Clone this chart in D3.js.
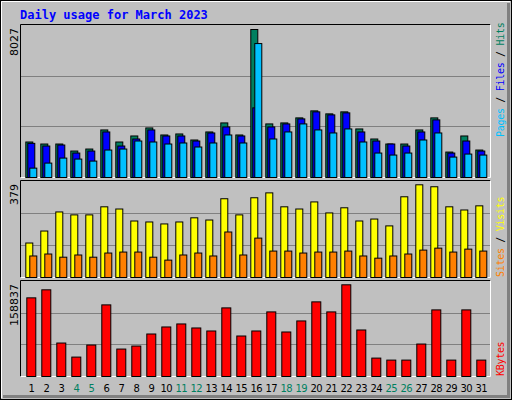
<!DOCTYPE html>
<html><head><meta charset="utf-8">
<script src="https://cdn.jsdelivr.net/npm/d3@7"></script>
<style>body{margin:0;background:#fff}svg{display:block}</style>
</head><body>
<script>
const days = d3.range(1,32);
const weekendDays = [4,5,11,12,18,19,25,26];
const hits = [1925,1816,1816,1435,1544,2579,1925,2252,2688,2306,2361,2034,2470,2960,2306,8027,2906,2960,3233,3614,3451,3560,2633,2088,1816,1816,2579,3233,1380,2252,1489];
const files = [1852,1707,1762,1326,1435,2470,1707,2088,2579,2252,2252,1979,2415,2742,2252,3777,2742,2906,3178,3560,3396,3505,2470,1979,1816,1707,2470,3124,1326,1979,1435];
const pages = [508,781,1053,999,890,1489,1544,1979,1925,1816,1871,1653,1871,2306,1871,7264,2088,2470,2906,2579,2415,2633,1925,1326,1217,1326,2034,2415,1108,1271,1217];
const visits = [141,190,268,256,256,289,280,231,227,219,227,244,235,322,256,326,346,289,280,309,264,285,231,239,211,330,379,371,289,276,293];
const sites = [88,96,83,92,83,100,104,104,83,71,92,100,88,186,92,161,108,108,100,104,104,108,88,79,88,96,112,120,104,116,108];
const kbytes = [136230,150143,57970,33623,54492,124056,47535,52753,73622,85796,91013,84057,78839,118839,70144,78839,111882,77100,96230,129273,111882,158837,80578,31884,28405,28405,56231,115360,28405,115360,28405];
const maxLabels = ["8027","379","158837"];

const svg = d3.select("body").append("svg").attr("width",512).attr("height",400);
const font = "'DejaVu Sans Mono', monospace";
svg.append("rect").attr("x",0).attr("y",0).attr("width",512).attr("height",400).attr("fill","#c0c0c0");
svg.append("path").attr("d","M1.5,398 V1.5 H510").attr("stroke","#fff").attr("fill","none").attr("stroke-width",1);
svg.append("path").attr("d","M3,396.5 H508.5 V3").attr("stroke","#808080").attr("fill","none").attr("stroke-width",3);
svg.append("rect").attr("x",0.5).attr("y",0.5).attr("width",511).attr("height",399).attr("fill","none").attr("stroke","#000");

svg.append("text").attr("x",20).attr("y",19).attr("font-family",font).attr("font-weight","bold")
  .attr("font-size",12).attr("fill","#0000ff").text("Daily usage for March 2023");

const x = d3.scaleLinear().domain([1,31]).range([25.3,475.3]);
const panels = [
  {top:25, base:177, maxY:29, max:8027},
  {top:181, base:277, maxY:184.3, max:379},
  {top:281, base:376, maxY:284.3, max:158837}
];
panels.forEach((p,i)=>{
  svg.append("rect").attr("x",20.5).attr("y",p.top-0.5).attr("width",470).attr("height",p.base-p.top+1).attr("fill","#c0c0c0");
  svg.append("path").attr("d",`M20.5,${p.base+0.5} V${p.top-0.5} H490.5`).attr("stroke","#000").attr("fill","none");
  svg.append("path").attr("d",`M20.5,${p.base+0.5} H490.5 V${p.top-0.5}`).attr("stroke","#fff").attr("fill","none");
  const h = p.base-p.top;
  [1,2].forEach(k=>{
    const gy = Math.round(p.base - h*k/3)+0.5;
    svg.append("line").attr("x1",21).attr("x2",490).attr("y1",gy).attr("y2",gy).attr("stroke","#808080");
  });
  p.y = d3.scaleLinear().domain([0,p.max]).range([p.base,p.maxY]);
  svg.append("text").attr("transform",`translate(18,${p.top+3}) rotate(-90)`).attr("text-anchor","end")
    .attr("font-family","'DejaVu Sans', sans-serif").attr("font-size",11).attr("fill","#000").text(maxLabels[i]);
});

function bars(vals, p, dx, w, color){
  svg.append("g").selectAll("rect").data(vals).join("rect")
    .attr("x",(d,i)=>x(days[i])+dx+0.5).attr("width",w)
    .attr("y",d=>p.y(d)+0.5).attr("height",d=>p.base-p.y(d))
    .attr("fill",color).attr("stroke","#000").attr("stroke-width",1);
}
bars(hits,panels[0],0,7,"#008060");
bars(files,panels[0],2,7,"#0000ff");
bars(pages,panels[0],4,7,"#00c0ff");
bars(visits,panels[1],0,7,"#ffff00");
bars(sites,panels[1],4,7,"#ff8000");
bars(kbytes,panels[2],1,9,"#ff0000");

svg.append("g").selectAll("text").data(days).join("text")
  .attr("x",d=>x(d)+6).attr("y",392).attr("text-anchor","middle")
  .attr("font-family","'DejaVu Sans', sans-serif").attr("font-size",10).attr("letter-spacing",-0.6)
  .attr("fill",d=>weekendDays.includes(d)?"#008060":"#000").text(d=>d);

function legend(parts, yEnd){
  const t = svg.append("text").attr("transform",`translate(504,${yEnd}) rotate(-90)`)
    .attr("font-family",font).attr("font-size",10).attr("letter-spacing",-0.3);
  parts.forEach(([s,c])=>t.append("tspan").attr("fill",c).text(s));
}
legend([["Pages","#00c0ff"],[" / ","#000"],["Files","#0000ff"],[" / ","#000"],["Hits","#008060"]],137);
legend([["Sites","#ff8000"],[" / ","#000"],["Visits","#ffff00"]],277);
legend([["KBytes","#ff0000"]],376);
</script>
</body></html>
